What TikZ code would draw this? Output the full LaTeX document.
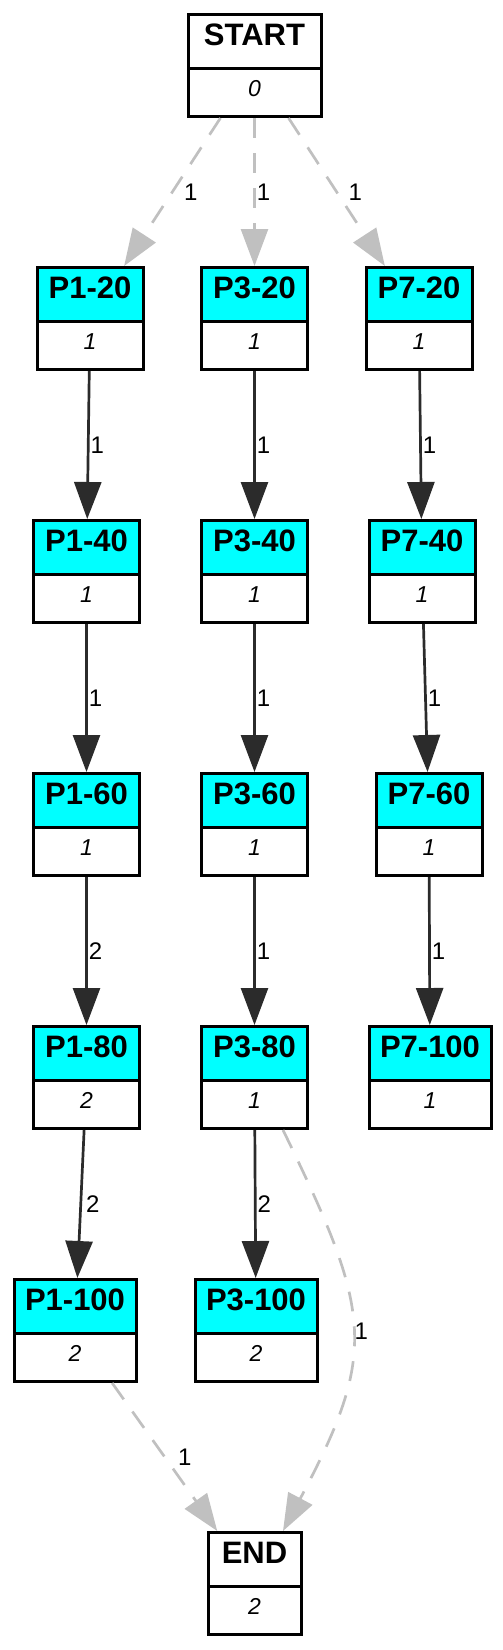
\documentclass[tikz,border=0pt]{standalone}
\usepackage{fontspec}
\setmainfont{Liberation Sans}
\usetikzlibrary{positioning,shapes.multipart,arrows.meta}

\definecolor{edgedark}{HTML}{2B2B2B}
\definecolor{edgegray}{HTML}{C0C0C0}
\definecolor{stagecyan}{HTML}{00FFFF}

\newcommand{\hdr}{\rule[-21.5pt]{0pt}{50.5pt}\bfseries\fontsize{31pt}{31pt}\selectfont}
\newcommand{\val}{\rule[-19pt]{0pt}{45.5pt}\itshape\fontsize{23pt}{23pt}\selectfont}

\tikzset{
  box/.style={rectangle split, rectangle split parts=2, draw=black, line width=3pt,
    inner xsep=0pt, inner ysep=0pt, minimum width=106pt},
  stage/.style={box, rectangle split part fill={stagecyan,white}},
  wide/.style={minimum width=122pt},
  terminal/.style={box, rectangle split part fill={white,white}},
  flow/.style={draw=edgedark, line width=2.7pt, -{Triangle[length=37pt,width=27pt]}},
  skip/.style={draw=edgegray, line width=2.7pt, dash pattern=on 20pt off 15pt,
    -{Triangle[length=37pt,width=27pt]}},
  elabel/.style={midway, right, inner sep=1pt, font=\fontsize{24pt}{24pt}\selectfont, text=black},
}

\begin{document}
\begin{tikzpicture}[x=1pt, y=-1pt, node distance=148pt]
  \useasboundingbox (0,0) rectangle (503,1650);

  \node[terminal, minimum width=133pt, anchor=north] (start) at (254.5,13) {\hdr START \nodepart{two} \val 0}; %

  % first row
  \node[stage, below=of start, xshift=-164.5pt] (p1-20) {\hdr P1-20 \nodepart{two} \val 1};
  \node[stage, below=of start]                  (p3-20) {\hdr P3-20 \nodepart{two} \val 1};
  \node[stage, below=of start, xshift=164.5pt]  (p7-20) {\hdr P7-20 \nodepart{two} \val 1};

  % P1 column
  \node[stage, below=of p1-20, xshift=-3.5pt] (p1-40) {\hdr P1-40 \nodepart{two} \val 1};
  \node[stage, below=of p1-40] (p1-60) {\hdr P1-60 \nodepart{two} \val 1};
  \node[stage, below=of p1-60] (p1-80) {\hdr P1-80 \nodepart{two} \val 2};
  \node[stage, wide, below=of p1-80, xshift=-11.5pt] (p1-100) {\hdr P1-100 \nodepart{two} \val 2};

  % P3 column
  \node[stage, below=of p3-20] (p3-40) {\hdr P3-40 \nodepart{two} \val 1};
  \node[stage, below=of p3-40] (p3-60) {\hdr P3-60 \nodepart{two} \val 1};
  \node[stage, below=of p3-60] (p3-80) {\hdr P3-80 \nodepart{two} \val 1};
  \node[stage, wide, below=of p3-80, xshift=1.5pt] (p3-100) {\hdr P3-100 \nodepart{two} \val 2};

  % P7 column
  \node[stage, below=of p7-20, xshift=3pt] (p7-40) {\hdr P7-40 \nodepart{two} \val 1};
  \node[stage, below=of p7-40, xshift=7pt] (p7-60) {\hdr P7-60 \nodepart{two} \val 1};
  \node[stage, wide, below=of p7-60, xshift=1pt] (p7-100) {\hdr P7-100 \nodepart{two} \val 1};

  \node[terminal, minimum width=93pt, below=of p3-100, xshift=-1.5pt] (finish) {\hdr END \nodepart{two} \val 2};

  % edges
  \draw[skip] (start) -- node[elabel, xshift=9.5pt] {1} (p1-20);
  \draw[skip] (start) -- node[elabel] {1} (p3-20);
  \draw[skip] (start) -- node[elabel, xshift=9.5pt] {1} (p7-20);

  \draw[flow] (p1-20) -- node[elabel] {1} (p1-40);
  \draw[flow] (p1-40) -- node[elabel] {1} (p1-60);
  \draw[flow] (p1-60) -- node[elabel] {2} (p1-80);
  \draw[flow] (p1-80) -- node[elabel, xshift=3pt] {2} (p1-100);

  \draw[flow] (p3-20) -- node[elabel] {1} (p3-40);
  \draw[flow] (p3-40) -- node[elabel] {1} (p3-60);
  \draw[flow] (p3-60) -- node[elabel] {1} (p3-80);
  \draw[flow] (p3-80) -- node[elabel] {2} (p3-100);

  \draw[flow] (p7-20) -- node[elabel] {1} (p7-40);
  \draw[flow] (p7-40) -- node[elabel] {1} (p7-60);
  \draw[flow] (p7-60) -- node[elabel] {1} (p7-100);

  \draw[skip] (p1-100) -- node[elabel, xshift=11pt] {1} (finish);
  \draw[skip] ([xshift=28.5pt]p3-80.south) to[out=-64, in=62, looseness=1.3]
    node[elabel] {1} ([xshift=28.5pt]finish.north);

\end{tikzpicture}
\end{document}
